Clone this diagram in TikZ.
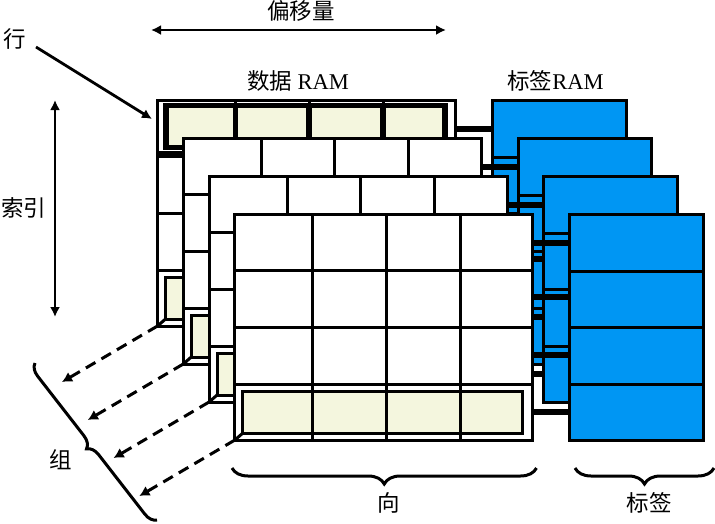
\documentclass[tikz,border=0pt]{standalone}
\usepackage{fontspec}
\setmainfont{Liberation Serif}
\newfontfamily\cjk{Noto Sans CJK SC}
\usetikzlibrary{arrows.meta,decorations.pathreplacing}
\definecolor{lineyellow}{HTML}{F4F6DE}
\definecolor{tagblue}{HTML}{0096F3}
\tikzset{
	txt/.style={font=\fontsize{22.5}{22.5}\selectfont},
	ln/.style={line width=3pt},
	bold/.style={line width=5.5pt},
	arr/.style={line width=2.8pt,-{Latex[length=10pt,width=10pt]}},
	twoarr/.style={line width=2.8pt,{Latex[length=10pt,width=10pt]}-{Latex[length=10pt,width=10pt]}},
	dasharr/.style={line width=3pt,dash pattern=on 11pt off 7pt,-{Latex[length=10pt,width=11pt]}},
	brc/.style={line width=3pt,decorate,decoration={brace,amplitude=#1}}
}
\begin{document}
\begin{tikzpicture}[x=1pt,y=-1pt]
	\useasboundingbox (0,0) rectangle (715,523);

	\foreach \w in {0,1,2,3} {
		\begin{scope}[shift={(\w*25.8,\w*38)}]
			% links to the tag block
			\foreach \y in {129,183,241,298}
				\draw [bold] (450,\y) -- (495,\y);
			% tag block
			\draw [ln,fill=tagblue] (492.3,100) rectangle (626,326);
			\foreach \y in {157,213,270}
				\draw [ln] (492.3,\y) -- (626,\y);
			% data block
			\draw [ln,fill=white] (157.5,100) rectangle (455.5,326);
			\foreach \y in {156,213,270}
				\draw [ln] (157.5,\y) -- (455.5,\y);
			\draw [ln,fill=lineyellow] (165.5,277) rectangle (445,319);
			\draw [ln] (157.5,326) -- (165.5,319);
			\foreach \x in {235.5,309,383}
				\draw [ln] (\x,100) -- (\x,326);
			\coordinate (corner\w) at (157.5,326);
			\coordinate (end\w) at (62,382);
			% first line of the first way
			\ifnum\w=0
				\draw [bold,fill=lineyellow] (166,105.5) rectangle (445,147.5);
				\foreach \x in {235.5,309,383}
					\draw [bold] (\x,105.5) -- (\x,147.5);
				\draw [bold] (157.5,154) -- (455.5,154);
			\fi
		\end{scope}
	}

	\node [txt] (offset) at (301,11) {\cjk 偏移量};
	\node [txt] (data) at (298,81) {{\cjk 数据} RAM};
	\node [txt] (tag) at (555.5,81) {{\cjk 标签}RAM};
	\node [txt] (line) at (15,39) {\cjk 行};
	\node [txt] (index) at (24,208) {\cjk 索引};
	\node [txt] (set) at (61,460) {\cjk 组};
	\node [txt] (way) at (389,503) {\cjk 向};
	\node [txt] (tagway) at (649,503) {\cjk 标签};

	\coordinate (linestart) at (36,47);
	\coordinate (lineend) at (152,119);
	\coordinate (offa) at (151,30);
	\coordinate (offb) at (446,30);
	\coordinate (inda) at (55,100);
	\coordinate (indb) at (55,317);
	\draw [arr] (linestart) -- (lineend);
	\draw [twoarr] (offa) -- (offb);
	\draw [twoarr] (inda) -- (indb);

	\foreach \w in {0,1,2,3}
		\draw [dasharr] (corner\w) -- (end\w);

	\coordinate (seta) at (157,520);
	\coordinate (setb) at (35,363);
	\coordinate (waya) at (232,468);
	\coordinate (wayb) at (536.5,468);
	\coordinate (taga) at (575,468);
	\coordinate (tagb) at (714,468);
	\draw [brc=12pt] (seta) -- (setb);
	\draw [brc=16pt] (wayb) -- (waya);
	\draw [brc=16pt] (tagb) -- (taga);
\end{tikzpicture}
\end{document}
